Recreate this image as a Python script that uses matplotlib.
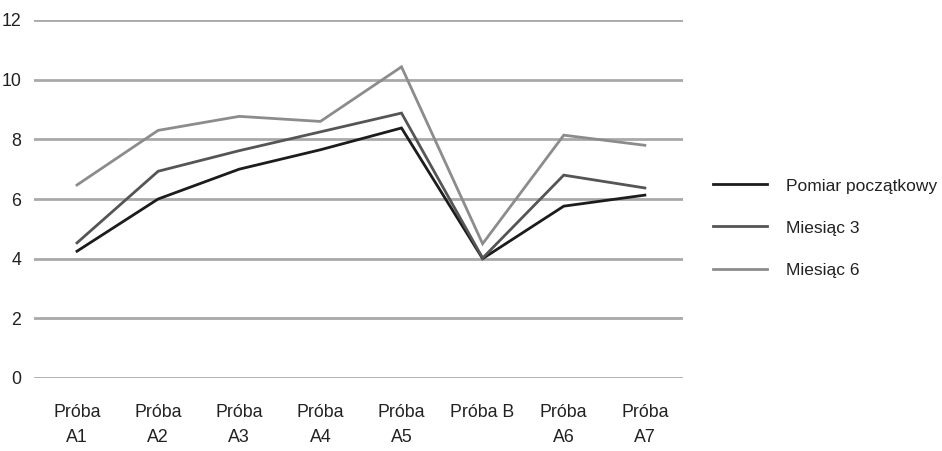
import matplotlib
matplotlib.use("Agg")
import matplotlib.pyplot as plt

plt.rcParams['font.family'] = ['Liberation Sans', 'DejaVu Sans']

# dane z wykresu
kategorie = ["Próba\nA1", "Próba\nA2", "Próba\nA3", "Próba\nA4", "Próba\nA5",
             "Próba B", "Próba\nA6", "Próba\nA7"]
pomiar_poczatkowy = [4.25, 6.0, 7.0, 7.65, 8.38, 4.0, 5.76, 6.13]
miesiac_3 = [4.53, 6.93, 7.62, 8.25, 8.88, 4.02, 6.8, 6.37]
miesiac_6 = [6.47, 8.3, 8.77, 8.6, 10.43, 4.5, 8.14, 7.8]
serie = ["Pomiar początkowy", "Miesiąc 3", "Miesiąc 6"]
kolory = ["#1c1c1c", "#555555", "#8c8c8c"]

fig = plt.figure(figsize=(9.42, 4.51), dpi=100)
ax = fig.add_axes([34 / 942, 1 - 378 / 451, (683 - 34) / 942, 358 / 451])

x = list(range(len(kategorie)))
for dane, nazwa, kolor in zip([pomiar_poczatkowy, miesiac_3, miesiac_6], serie, kolory):
    ax.plot(x, dane, color=kolor, lw=2.0, label=nazwa, solid_joinstyle='miter')

ax.set_ylim(0, 12)
ax.set_xlim(-0.53, 7.47)
ax.set_yticks(range(0, 13, 2))
ax.set_xticks(x)
ax.set_xticklabels(kategorie, va='top')
for lbl in ax.get_xticklabels():
    lbl.set_linespacing(1.55)
ax.tick_params(axis='both', length=0, labelsize=12.8, colors='#222222')
ax.tick_params(axis='y', pad=9)
ax.tick_params(axis='x', pad=19)
ax.yaxis.grid(True, color='#a9a9a9', lw=2)
ax.set_axisbelow(True)
for s in ax.spines.values():
    s.set_visible(False)

fig.legend(loc='center left', bbox_to_anchor=(713 / 942, 1 - 228 / 451),
           frameon=False, fontsize=12.5, handlelength=3.1, handletextpad=1.1,
           labelspacing=1.55, borderpad=0, borderaxespad=0, labelcolor='#222222')

fig.savefig("out.png", dpi=100)
